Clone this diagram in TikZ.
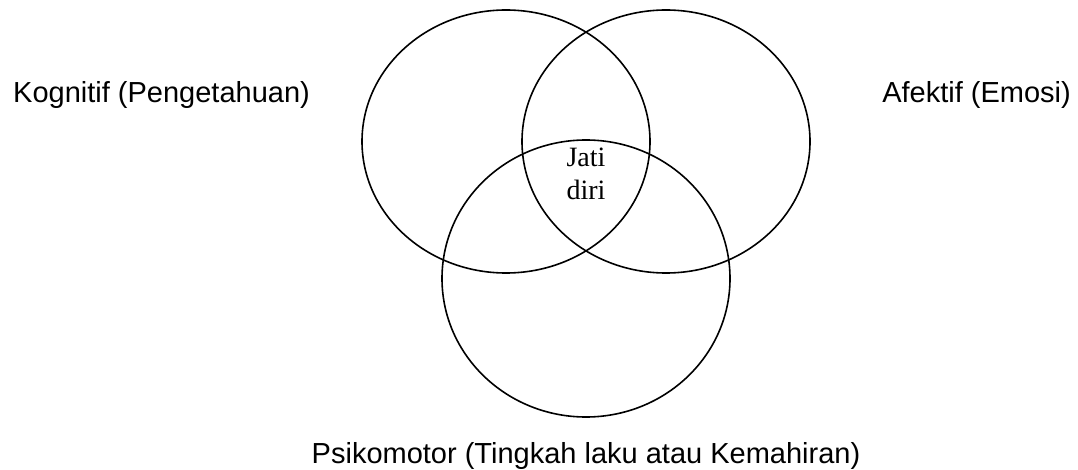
\documentclass[tikz,border=0pt]{standalone}
\usepackage{fontspec}
\setmainfont{Liberation Sans}
\newfontfamily\serifface{Liberation Serif}
\usetikzlibrary{shapes.geometric}
\tikzset{
  venn/.style={draw=black, ellipse, line width=1.6pt, inner sep=0pt, outer sep=0pt},
  lbl/.style={inner sep=0pt, font=\fontsize{29}{34}\selectfont},
  core/.style={inner sep=0pt, align=center, font=\serifface\fontsize{28}{33}\selectfont}
}
\begin{document}
\begin{tikzpicture}[x=1pt,y=-1pt]
\useasboundingbox (0,0) rectangle (1078,470);
\fill[white] (0,0) rectangle (1078,470);
\node[venn, minimum width=288pt, minimum height=263pt] (kog) at (506,141.5) {};
\node[venn, minimum width=288pt, minimum height=263pt] (afe) at (666,141.5) {};
\node[venn, minimum width=288pt, minimum height=277pt] (psi) at (586,278.5) {};
\node[lbl, anchor=base west] (tkog) at (13,103) {Kognitif (Pengetahuan)};
\node[lbl, anchor=base east] (tafe) at (1071,103) {Afektif (Emosi)};
\node[lbl, anchor=base] (tpsi) at (586,463) {Psikomotor (Tingkah laku atau Kemahiran)};
\node[core, anchor=base] (jati) at (586,167) {Jati};
\node[core, anchor=base] (diri) at (586,200) {diri};
\end{tikzpicture}
\end{document}
